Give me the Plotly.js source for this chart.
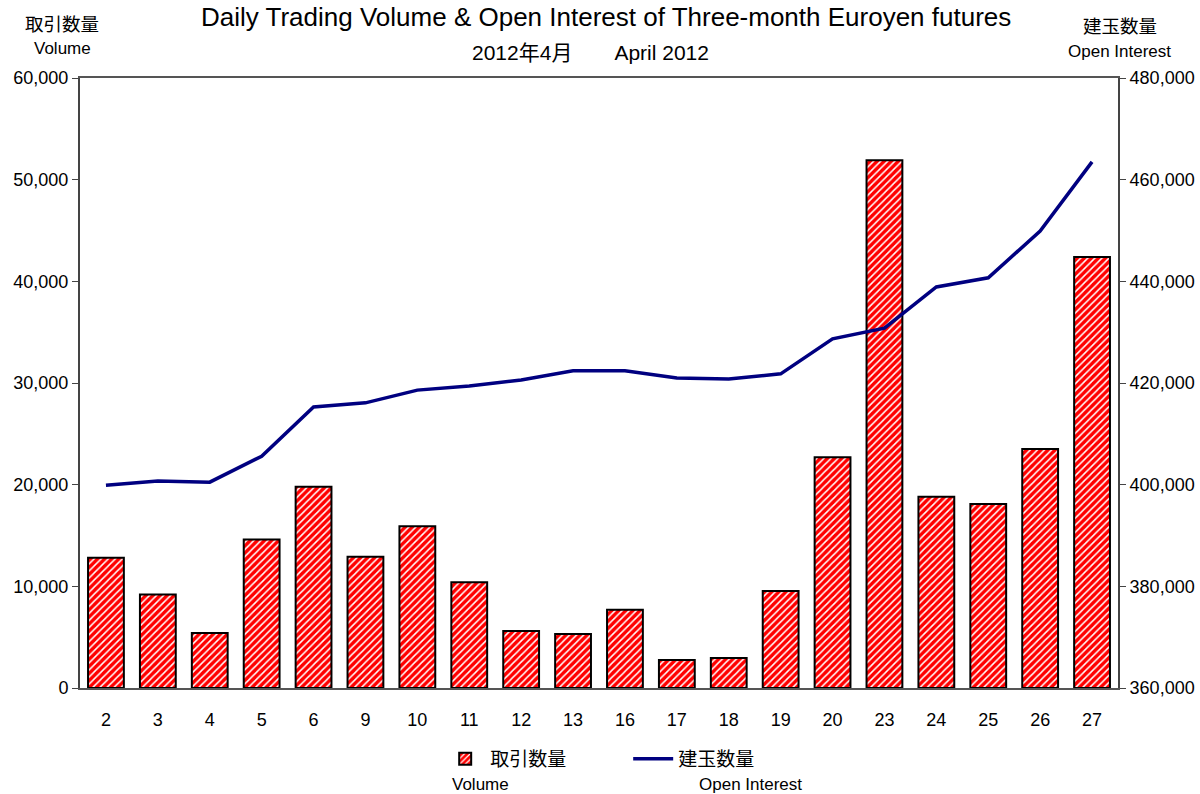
<!DOCTYPE html>
<html>
<head>
<meta charset="utf-8">
<script src="https://cdn.plot.ly/plotly-3.0.1.min.js"></script>
<style>html,body{margin:0;padding:0;background:#fff;}#chart{width:1200px;height:794px;}</style>
</head>
<body>
<div id="chart"></div>
<script>
const days = ["2","3","4","5","6","9","10","11","12","13","16","17","18","19","20","23","24","25","26","27"];
const volume = [12800, 9200, 5400, 14600, 19800, 12900, 15900, 10400, 5600, 5300, 7700, 2750, 2950, 9550, 22700, 51900, 18800, 18100, 23500, 42400];
const openInterest = [399900, 400700, 400500, 405600, 415300, 416100, 418600, 419400, 420600, 422400, 422400, 421000, 420800, 421800, 428700, 430800, 438900, 440700, 449900, 463500];
const leftTicks = [0, 10000, 20000, 30000, 40000, 50000, 60000];
const rightTicks = [360000, 380000, 400000, 420000, 440000, 460000, 480000];

const FONT = "Liberation Sans, Noto Sans CJK JP, sans-serif";
const fmt = v => v.toLocaleString('en-US');

const traces = [
  {
    type: 'bar', x: days, y: volume, name: '取引数量', yaxis: 'y',
    marker: {
      color: '#ff0000',
      line: {color: '#000000', width: 2},
      pattern: {shape: '/', fgcolor: '#ffffff', bgcolor: '#ff0000', size: 5, solidity: 0.3}
    }
  },
  {
    type: 'scatter', mode: 'lines', x: days, y: openInterest, name: '建玉数量', yaxis: 'y2',
    line: {color: '#000080', width: 3.5}
  }
];

const layout = {
  width: 1200, height: 794,
  margin: {l: 80, r: 82, t: 78, b: 106},
  paper_bgcolor: '#ffffff', plot_bgcolor: '#ffffff',
  font: {family: FONT, size: 18, color: '#000'},
  showlegend: true,
  bargap: 0.31,
  legend: {
    orientation: 'h', x: 0.347, xanchor: 'left', y: -0.085, yanchor: 'top',
    font: {family: FONT, size: 19, color: '#000'},
    itemwidth: 40, traceorder: 'normal', entrywidthmode: 'pixels', entrywidth: 133
  },
  xaxis: {
    type: 'category', showline: true, linecolor: '#555', linewidth: 2, mirror: true,
    ticks: '', tickfont: {size: 18}, showgrid: false, zeroline: false, ticklabelstandoff: 14
  },
  yaxis: {
    range: [0, 60000], tickvals: leftTicks, ticktext: leftTicks.map(fmt),
    showline: true, linecolor: '#444', linewidth: 2, ticks: 'outside', ticklen: 6, tickcolor: '#444',
    showgrid: false, zeroline: false, tickfont: {size: 18}
  },
  yaxis2: {
    range: [360000, 480000], overlaying: 'y', side: 'right', tickvals: rightTicks, ticktext: rightTicks.map(fmt),
    showline: true, linecolor: '#444', linewidth: 2, ticks: 'outside', ticklen: 6, tickcolor: '#444',
    showgrid: false, zeroline: false, tickfont: {size: 18}
  },
  annotations: [
    {text: 'Daily Trading Volume &amp; Open Interest of Three-month Euroyen futures', xref: 'paper', yref: 'paper',
     x: 0.507, y: 1.1, xanchor: 'center', yanchor: 'middle', showarrow: false, font: {size: 26}},
    {text: '2012年4月　　April 2012', xref: 'paper', yref: 'paper',
     x: 0.492, y: 1.041, xanchor: 'center', yanchor: 'middle', showarrow: false, font: {size: 21}},
    {text: '取引数量', xref: 'paper', yref: 'paper', x: -0.0173, y: 1.0885, xanchor: 'center', yanchor: 'middle', showarrow: false, font: {size: 18.5}},
    {text: 'Volume', xref: 'paper', yref: 'paper', x: -0.0173, y: 1.049, xanchor: 'center', yanchor: 'middle', showarrow: false, font: {size: 17}},
    {text: '建玉数量', xref: 'paper', yref: 'paper', x: 1.0019, y: 1.085, xanchor: 'center', yanchor: 'middle', showarrow: false, font: {size: 18.5}},
    {text: 'Open Interest', xref: 'paper', yref: 'paper', x: 1.0019, y: 1.044, xanchor: 'center', yanchor: 'middle', showarrow: false, font: {size: 17}},
    {text: 'Volume', xref: 'paper', yref: 'paper', x: 0.386, y: -0.159, xanchor: 'center', yanchor: 'middle', showarrow: false, font: {size: 17}},
    {text: 'Open Interest', xref: 'paper', yref: 'paper', x: 0.646, y: -0.159, xanchor: 'center', yanchor: 'middle', showarrow: false, font: {size: 17}}
  ]
};

Plotly.newPlot('chart', traces, layout, {displayModeBar: false, staticPlot: true});
</script>
</body>
</html>
